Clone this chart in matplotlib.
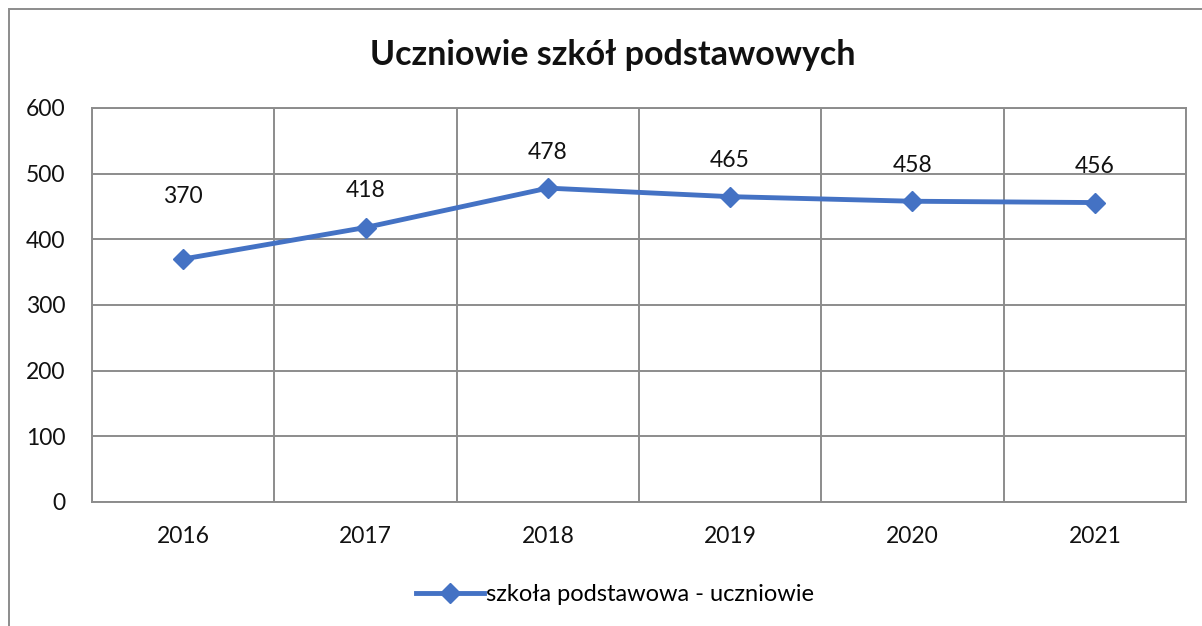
import numpy as np
import matplotlib.pyplot as plt
from matplotlib.patches import Rectangle

plt.rcParams['font.family'] = ['Lato', 'DejaVu Sans']

years = ['2016', '2017', '2018', '2019', '2020', '2021']
uczniowie = [370, 418, 478, 465, 458, 456]
y_ticks = [0, 100, 200, 300, 400, 500, 600]

blue = '#4472C4'
grid_c = '#8c8c8c'
fs = 16.5

fig = plt.figure(figsize=(12.02, 6.26), dpi=100)
ax = fig.add_axes([92/1202, 1-502/626, (1186-92)/1202, (502-108)/626])

x = np.arange(len(years))
ax.plot(x, uczniowie, color=blue, lw=3.5, marker='D', markersize=10,
        label='szkoła podstawowa - uczniowie')
# first label sits higher in the original
label_off = [45, 27, 26, 26, 26, 26]
for xi, v, off in zip(x, uczniowie, label_off):
    ax.annotate(str(v), (xi, v), xytext=(0, off), textcoords='offset points',
                ha='center', va='center', fontsize=fs, color='#111111')

ax.set_xlim(-0.5, len(years) - 0.5)
ax.set_ylim(0, 600)
ax.set_yticks(y_ticks)
ax.set_xticks(x)
ax.set_xticklabels(years)
ax.set_xticks(np.arange(-0.5, len(years), 1), minor=True)
ax.grid(True, axis='y', color=grid_c, lw=1.4)
ax.grid(True, axis='x', which='minor', color=grid_c, lw=1.4)
ax.tick_params(which='both', length=0, labelsize=fs, colors='#111111')
ax.tick_params(axis='y', pad=19)
ax.tick_params(axis='x', pad=17)
for s in ax.spines.values():
    s.set_color(grid_c)
    s.set_linewidth(1.4)
ax.set_axisbelow(True)

fig.text(0.51, 1-55/626, 'Uczniowie szkół podstawowych', ha='center', va='center',
         fontsize=24.5, fontweight='bold', color='#111111')

ax.legend(loc='center', bbox_to_anchor=(0.478, -0.235), frameon=False,
          fontsize=17, handlelength=2.9, handletextpad=0.1)

fig.patches.append(Rectangle((9/1202, -0.1), 1.2, 1.1 - 9/626, transform=fig.transFigure,
                             fill=False, edgecolor=grid_c, lw=1.4))

fig.savefig('out.png', dpi=100)
